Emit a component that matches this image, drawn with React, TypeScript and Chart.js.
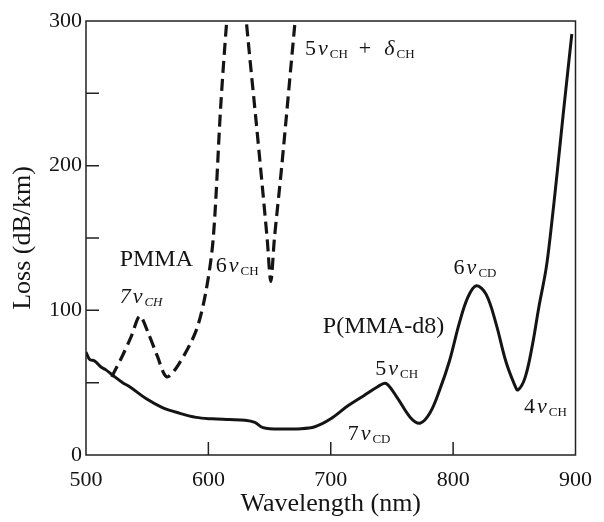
import React, { useEffect, useRef } from "react";
import { Chart, registerables } from "chart.js";

Chart.register(...registerables);

// P(MMA-d8) loss spectrum (solid)
const solidWavelength = [
  500, 503, 507, 512, 516, 522, 530, 536, 549, 562, 576, 590, 603, 617, 630,
  638, 643, 647, 654, 662, 673, 687, 700, 714, 727, 738, 745, 754, 765, 773,
  781, 789, 797, 805, 812, 819, 827, 835, 843, 850, 853, 859, 865, 870, 876,
  880, 885, 890, 897,
];
const solidLoss = [
  71, 66, 65, 61, 59, 55, 50, 47, 39, 33, 29, 26, 25, 24.5, 24,
  22.5, 19.5, 18.5, 18, 18, 18, 19.5, 25, 34, 41, 47, 49.5, 40, 26, 22,
  29, 45, 65, 91, 109, 117, 111, 91, 65, 49, 45, 54, 77, 102, 129,
  156, 195, 236, 291,
];

// PMMA loss spectrum (dashed)
const pmmaWavelength = [
  521, 530, 537, 544, 551, 558, 566, 576, 590, 598, 604, 610, 615, 623, 631,
  640, 648, 651, 654, 660, 670, 676,
];
const pmmaLoss = [
  54, 69, 82, 96, 84, 69, 54, 63, 86, 113, 150, 240, 300, 380, 300,
  222, 150, 120, 150, 200, 292, 345,
];

const xMin = 500;
const xMax = 900;
const xStep = 100;
const yMin = 0;
const yMax = 300;
const yStep = 50;
const yLabelStep = 100;

type Part = { t: string; sub?: boolean; it?: boolean };
type Annot = { nm: number; loss: number; parts: Part[]; size?: number; italic?: boolean };

const annotations: Annot[] = [
  { nm: 527.5, loss: 130.7, size: 24, parts: [{ t: "PMMA" }] },
  { nm: 527.5, loss: 105, italic: true, parts: [{ t: "7" }, { t: "ν", it: true }, { t: "CH", sub: true }] },
  { nm: 606, loss: 126.6, parts: [{ t: "6" }, { t: "ν", it: true }, { t: "CH", sub: true }] },
  {
    nm: 679,
    loss: 276.6,
    parts: [
      { t: "5" },
      { t: "ν", it: true },
      { t: "CH", sub: true },
      { t: "  +  " },
      { t: "δ", it: true },
      { t: "CH", sub: true },
    ],
  },
  { nm: 693.5, loss: 84, size: 24, parts: [{ t: "P(MMA-d8)" }] },
  { nm: 736.4, loss: 55, parts: [{ t: "5" }, { t: "ν", it: true }, { t: "CH", sub: true }] },
  { nm: 713.8, loss: 10.3, parts: [{ t: "7" }, { t: "ν", it: true }, { t: "CD", sub: true }] },
  { nm: 800.4, loss: 125.2, parts: [{ t: "6" }, { t: "ν", it: true }, { t: "CD", sub: true }] },
  { nm: 857.9, loss: 28.9, parts: [{ t: "4" }, { t: "ν", it: true }, { t: "CH", sub: true }] },
];

const SERIF = '"Liberation Serif", "DejaVu Serif", serif';
const INK = "#141414";

const annotationPlugin = {
  id: "annotText",
  afterDatasetsDraw(chart: any) {
    const { ctx } = chart;
    const x = chart.scales.x;
    const y = chart.scales.y;
    ctx.save();
    ctx.fillStyle = INK;
    ctx.textAlign = "left";
    ctx.textBaseline = "alphabetic";
    for (const a of annotations) {
      let px = x.getPixelForValue(a.nm);
      const py = y.getPixelForValue(a.loss);
      for (const p of a.parts) {
        const size = p.sub ? 13 : a.size ?? 22;
        const ital = a.italic || p.it;
        ctx.font = `${ital ? "italic " : ""}${size}px ${SERIF}`;
        ctx.fillText(p.t, px, py + (p.sub ? 3 : 0));
        px += ctx.measureText(p.t).width + (p.sub ? 0 : 2);
      }
    }
    ctx.restore();
  },
};

const framePlugin = {
  id: "frameTicks",
  afterDraw(chart: any) {
    const { ctx, chartArea } = chart;
    const { left, right, top, bottom } = chartArea;
    const x = chart.scales.x;
    const y = chart.scales.y;
    ctx.save();
    ctx.strokeStyle = "#222";
    ctx.lineWidth = 1.5;
    ctx.strokeRect(left, top, right - left, bottom - top);
    ctx.beginPath();
    y.ticks.forEach((t: any) => {
      if (t.value > yMin && t.value < yMax) {
        const py = y.getPixelForValue(t.value);
        ctx.moveTo(left, py);
        ctx.lineTo(left + 13, py);
      }
    });
    x.ticks.forEach((t: any) => {
      if (t.value > xMin && t.value < xMax) {
        const px = x.getPixelForValue(t.value);
        ctx.moveTo(px, bottom);
        ctx.lineTo(px, bottom - 13);
      }
    });
    ctx.stroke();
    ctx.restore();
  },
};

export default function App() {
  const canvasRef = useRef<HTMLCanvasElement | null>(null);

  useEffect(() => {
    if (!canvasRef.current) return;
    const chart = new Chart(canvasRef.current, {
      type: "line",
      data: {
        datasets: [
          {
            label: "P(MMA-d8)",
            data: solidWavelength.map((w, i) => ({ x: w, y: solidLoss[i] })),
            borderColor: INK,
            borderWidth: 3,
            pointRadius: 0,
            tension: 0.35,
            fill: false,
          },
          {
            label: "PMMA",
            data: pmmaWavelength.map((w, i) => ({ x: w, y: pmmaLoss[i] })),
            borderColor: INK,
            borderWidth: 3.2,
            borderDash: [12, 6],
            pointRadius: 0,
            tension: 0.3,
            fill: false,
          },
        ],
      },
      options: {
        responsive: false,
        animation: false,
        layout: { padding: { left: 0, top: 21, right: 24, bottom: 0 } },
        plugins: {
          legend: { display: false },
          tooltip: { enabled: false },
        },
        scales: {
          x: {
            type: "linear",
            min: xMin,
            max: xMax,
            grid: { display: false, drawTicks: false },
            border: { display: false },
            ticks: {
              stepSize: xStep,
              padding: 12,
              color: INK,
              font: { family: SERIF, size: 22 },
              maxRotation: 0,
            },
            title: {
              display: true,
              text: "Wavelength (nm)",
              color: INK,
              font: { family: SERIF, size: 26 },
              padding: { top: 0, bottom: 2 },
            },
            afterFit: (scale: any) => {
              scale.height = 67;
            },
          },
          y: {
            type: "linear",
            min: yMin,
            max: yMax,
            grid: { display: false, drawTicks: false },
            border: { display: false },
            ticks: {
              stepSize: yStep,
              padding: 4,
              color: INK,
              font: { family: SERIF, size: 22 },
              callback: (v: any) => (Number(v) % yLabelStep === 0 ? String(v) : ""),
            },
            title: {
              display: true,
              text: "Loss (dB/km)",
              color: INK,
              font: { family: SERIF, size: 26 },
              padding: { top: 8, bottom: 0 },
            },
            afterFit: (scale: any) => {
              scale.width = 86;
            },
          },
        },
      },
      plugins: [annotationPlugin, framePlugin],
    });
    return () => chart.destroy();
  }, []);

  return (
    <div style={{ position: "absolute", left: 0, top: 0, width: 604, height: 522, background: "#fff" }}>
      <canvas ref={canvasRef} width={604} height={522} style={{ display: "block" }} />
    </div>
  );
}
